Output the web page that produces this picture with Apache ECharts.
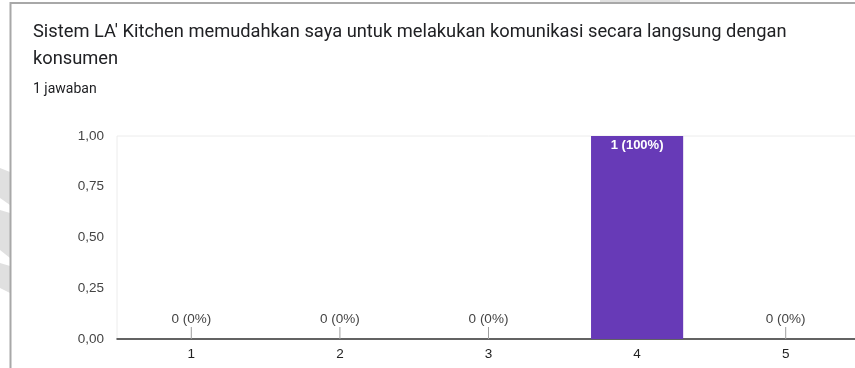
<!DOCTYPE html>
<html>
<head>
<meta charset="utf-8">
<script src="https://cdn.jsdelivr.net/npm/echarts@6/dist/echarts.min.js"></script>
<style>
  html, body { margin: 0; padding: 0; background: #fff; overflow: hidden; }
  /* the plot runs slightly past the right edge of the window */
  #chart { width: 860px; height: 368px; }
</style>
</head>
<body>
<div id="chart"></div>
<script>
// Survey question and response data
const questionLines = [
  "Sistem LA' Kitchen memudahkan saya untuk melakukan komunikasi secara langsung dengan",
  "konsumen"
];
const responseCountText = "1 jawaban";
const categories = ["1", "2", "3", "4", "5"];
const counts = [0, 0, 0, 1, 0];
const yTicks = [0, 0.25, 0.5, 0.75, 1];

const total = counts.reduce((a, b) => a + b, 0);
const pct = v => (total ? Math.round(v / total * 100) : 0) + '%';

const barColor = '#673ab7';
const chartFont = 'Liberation Sans, Arial, sans-serif';

const seriesData = counts.map(v => {
  if (v > 0) {
    return {
      value: v,
      label: {
        show: true,
        position: 'insideTop',
        distance: 3,
        color: '#fff',
        fontFamily: chartFont,
        fontSize: 13,
        fontWeight: 'bold',
        formatter: () => v + ' (' + pct(v) + ')'
      }
    };
  }
  return {
    value: v,
    label: {
      show: true,
      position: 'top',
      distance: 0,
      formatter: () => '{v|' + v + ' (' + pct(v) + ')}\n{l|}',
      rich: {
        v: {
          color: '#444',
          fontFamily: chartFont,
          fontSize: 13.5,
          lineHeight: 15
        },
        l: {
          width: 1,
          height: 12,
          backgroundColor: '#9e9e9e'
        }
      }
    }
  };
});

const chart = echarts.init(document.getElementById('chart'), null, { renderer: 'canvas' });

// faint background shapes outside the card
const bgShapes = [
  [[0, 168], [10, 172], [10, 205], [0, 198]],
  [[0, 210], [10, 213], [10, 258], [0, 250]],
  [[0, 263], [10, 266], [10, 293], [0, 288]],
  [[600, 0], [680, 0], [680, 2], [600, 2]]
].map(pts => ({
  type: 'polygon',
  shape: { points: pts },
  style: { fill: '#e0e0e0' },
  z: 1
}));

chart.setOption({
  animation: false,
  backgroundColor: '#fff',
  graphic: bgShapes.concat([
    // card outline
    {
      type: 'polyline',
      shape: { points: [[10.5, 368], [10.5, 3], [860, 3]] },
      style: { stroke: '#a8a8a8', lineWidth: 2, fill: null },
      z: 10
    },
    {
      type: 'text',
      left: 33,
      top: 19,
      style: {
        text: questionLines.join('\n'),
        font: '18.3px Roboto, sans-serif',
        fill: '#202124',
        lineHeight: 27
      }
    },
    {
      type: 'text',
      left: 33,
      top: 82,
      style: {
        text: responseCountText,
        font: '14px Roboto, sans-serif',
        fill: '#202124'
      }
    }
  ]),
  grid: {
    left: 117,
    top: 136,
    bottom: 29,
    right: 0,
    show: true,
    borderColor: '#ececec',
    borderWidth: 1
  },
  xAxis: {
    type: 'category',
    data: categories,
    axisLine: { lineStyle: { color: '#333', width: 1.5 } },
    axisTick: { show: false },
    axisLabel: {
      color: '#222',
      fontFamily: chartFont,
      fontSize: 13.5,
      margin: 8
    }
  },
  yAxis: {
    type: 'value',
    min: yTicks[0],
    max: yTicks[yTicks.length - 1],
    interval: yTicks[1] - yTicks[0],
    axisLine: { show: false },
    axisTick: { show: false },
    splitLine: { show: false },
    axisLabel: {
      color: '#444',
      fontFamily: chartFont,
      fontSize: 13.5,
      margin: 13,
      formatter: v => v.toFixed(2).replace('.', ',')
    }
  },
  series: [{
    type: 'bar',
    data: seriesData,
    barWidth: '62%',
    itemStyle: { color: barColor }
  }]
});
</script>
</body>
</html>
